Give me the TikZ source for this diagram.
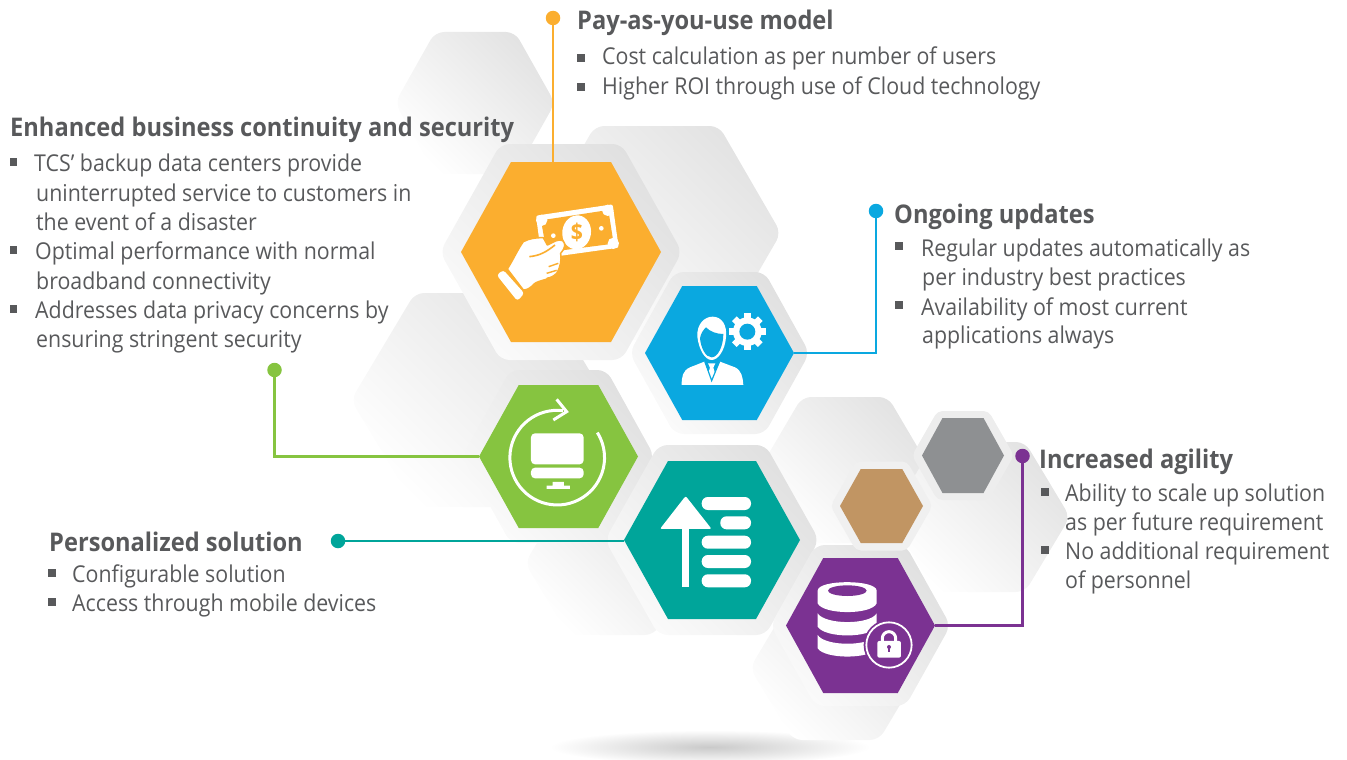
\documentclass[tikz,border=0pt]{standalone}
\usepackage{fontspec}
\setmainfont[FakeStretch=0.92]{Open Sans}
\usetikzlibrary{shapes.geometric}
\definecolor{txt}{HTML}{58595B}
\definecolor{corange}{HTML}{FBAE2F}
\definecolor{cblue}{HTML}{0AA8E0}
\definecolor{cgreen}{HTML}{86C440}
\definecolor{cteal}{HTML}{00A59A}
\definecolor{cpurple}{HTML}{7B3292}
\definecolor{cbrown}{HTML}{C19563}
\definecolor{cgrey}{HTML}{8E9092}
\tikzset{
  x=1pt,y=-1pt,
  bghex/.style={rounded corners=9pt,bottom color=white,top color=black!11,shading angle=-45},
  halo/.style={rounded corners=9pt,bottom color=black!2,top color=black!12,shading angle=-45},
  hexbox/.style={rectangle,inner sep=0pt,outer sep=0pt},
  head/.style={anchor=base west,inner sep=0pt,text=txt,font=\fontsize{25.7}{26}\selectfont\bfseries},
  lbl/.style={anchor=base west,inner sep=0pt,text=txt,font=\fontsize{23.2}{25}\selectfont},
  bul/.style={rectangle,fill=txt,inner sep=0pt,minimum size=7.2pt},
  dot/.style={circle,inner sep=0pt,minimum size=14.5pt},
  link/.style={line width=2.8pt},
}
\newcommand{\hexa}[6]{%
  \path[#6] ({#2-#4},#3) -- ({#2-#4/2},{#3-#5}) -- ({#2+#4/2},{#3-#5}) -- ({#2+#4},#3) -- ({#2+#4/2},{#3+#5}) -- ({#2-#4/2},{#3+#5}) -- cycle;
  \node[hexbox,minimum width={2*#4 pt},minimum height={2*#5 pt}] (#1) at (#2,#3) {};}
\newcommand{\pill}[4]{\fill[white,rounded corners=6.2pt] (#1,#2) rectangle (#3,#4);}
\begin{document}
\begin{tikzpicture}
\useasboundingbox (0,0) rectangle (1347,760);
% floor shadow
\begin{scope}
\clip (0,0) rectangle (1347,760);
\shade[inner color=black!21,outer color=white] (710,747) ellipse [x radius=160,y radius=17];
\end{scope}
% background hexagons
\hexa{bgA}{475}{103}{80}{71}{bghex}
\hexa{bgB}{657}{233}{124}{107}{bghex}
\hexa{bgC}{479}{400}{128}{107}{bghex}
\hexa{bgD}{611}{563}{86}{72}{bghex}
\hexa{bgE}{836}{668}{86}{72}{bghex}
\hexa{bgF}{845}{470}{86}{73}{bghex}
\hexa{bgG}{980}{517}{90}{75}{bghex}
% orange
\hexa{hOrange}{561}{252}{121}{108}{halo}
\hexa{orange}{561}{252}{100}{90}{fill=corange}
% blue
\hexa{hBlue}{719.5}{353}{90}{81}{halo}
\hexa{blue}{719.5}{353}{74.5}{67}{fill=cblue}
% green
\hexa{hGreen}{558.5}{456.5}{96}{86.5}{halo}
\hexa{green}{558.5}{456.5}{79.5}{71.5}{fill=cgreen}
% teal
\hexa{hTeal}{712}{540}{107}{95}{halo}
\hexa{teal}{712}{540}{88}{79}{fill=cteal}
% purple
\hexa{hPurple}{860.5}{625.5}{90}{80.5}{halo}
\hexa{purple}{860.5}{625.5}{74.5}{67.5}{fill=cpurple}
% grey
\hexa{hGrey}{963}{455.5}{51}{44.5}{rounded corners=5pt,fill=black!7}
\hexa{grey}{963}{455.5}{41}{37.5}{fill=cgrey}
% brown
\hexa{hBrown}{881.5}{506}{51}{44.5}{rounded corners=5pt,fill=black!6}
\hexa{brown}{881.5}{506}{41.5}{37}{fill=cbrown}
% money icon
\begin{scope}[shift={(490,195)},scale=0.3333]
\fill[white,rounded corners=2pt] (138,62)--(368,28)--(386,158)--(200,184)--(155,190)--cycle;
\fill[corange] (153,76)--(355,45)--(371,146)--(170,172)--cycle;
\fill[white] (155,76) circle (17) (353,46) circle (17) (370,145) circle (17);
\fill[white] (334,100) circle (7);
\fill[white,rotate around={-8:(260,112)}] (260,112) ellipse [x radius=43,y radius=51];
\fill[white] (190,122) circle (7);
\node[text=corange,font=\fontsize{23}{23}\selectfont\bfseries,inner sep=0pt] (dollar) at (261,112) {\$};
\fill[white,draw=corange,line width=1.5pt,line join=round]
  (52,222)..controls (72,190) and (85,160)..(100,140)
  ..controls (120,130) and (135,128)..(160,128)
  --(172,150)..controls (190,142) and (205,130)..(218,137)
  ..controls (228,145) and (226,160)..(212,175)
  ..controls (215,195) and (212,215)..(200,235)
  ..controls (180,255) and (150,255)..(135,265)
  ..controls (120,280) and (112,285)..(100,285)--cycle;
\draw[corange,line width=1.6pt] (118,185)..controls (150,182) and (170,170)..(195,150);
\draw[corange,line width=1.4pt] (176,215)--(205,205) (170,235)--(200,226) (170,250)--(192,245);
\fill[white,rounded corners=3pt] (20,240)--(40,225)--(103,295)--(82,318)--cycle;
\end{scope}
% person icon
\begin{scope}[shift={(670,300)},scale=0.3333]
\fill[white] (82,110)..controls (80,70) and (105,50)..(128,50)
  ..controls (155,50) and (172,75)..(168,112)
  ..controls (165,150) and (145,180)..(125,180)
  ..controls (105,180) and (87,150)..(82,110)--cycle;
\fill[cblue] (90,115)..controls (92,100) and (100,90)..(108,82)
  ..controls (120,95) and (140,102)..(160,102)
  ..controls (160,140) and (143,172)..(125,172)
  ..controls (107,172) and (93,145)..(90,115)--cycle;
\fill[white] (35,255)..controls (35,230) and (38,212)..(60,202)--(103,185)--(125,240)--(150,185)--(195,202)
  ..controls (215,212) and (218,230)..(220,255)--cycle;
\fill[white] (114,190)--(136,190)--(130,203)--(137,226)--(125,238)--(113,226)--(120,203)--cycle;
\draw[cblue,line width=1.2pt] (105,186)--(125,242)--(148,186);
\fill[white] (232,95) circle (43);
\foreach \a in {0,45,...,315}{\fill[white,rotate around={\a:(232,95)}] (222,40) rectangle (242,60);}
\fill[cblue] (232,95) circle (24);
\end{scope}
% refresh monitor icon
\begin{scope}[shift={(350,370)},scale=0.3333]
\draw[white,line width=3pt] (639,122) arc [start angle=-83,end angle=-392,radius=142];
\draw[white,line width=3pt] (620,88)--(650,125)--(610,150);
\fill[white,rounded corners=4pt] (543,283)--(543,190)--(701,190)--(701,283)--cycle;
\fill[white,rounded corners=4pt] (543,293)--(701,293)--(701,325)--(543,325)--cycle;
\fill[white] (608,336) rectangle (642,347) (590,347) rectangle (660,357);
\end{scope}
% arrow list icon
\begin{scope}[shift={(350,370)},scale=0.3333]
\fill[white] (997,470) rectangle (1017,652);
\fill[white,rounded corners=2pt] (1007,378)--(1085,477)--(930,477)--cycle;
\end{scope}
\pill{701.7}{497}{751}{510}
\pill{720.3}{516.3}{751}{529.3}
\pill{701.7}{535.7}{751}{548.7}
\pill{701.7}{555}{751}{568}
\pill{701.7}{574.3}{751}{587.3}
% database icon
\begin{scope}[shift={(805,570)},scale=0.3333]
\fill[white] (38,62)..controls (38,28) and (215,28)..(215,62)--(215,100)..controls (200,135) and (55,135)..(38,100)--cycle;
\fill[cpurple] (127,62) ellipse [x radius=58,y radius=16];
\fill[white] (38,130)..controls (60,165) and (195,165)..(215,130)--(215,170)..controls (195,205) and (60,205)..(38,170)--cycle;
\fill[white] (38,195)..controls (60,230) and (195,230)..(215,195)--(215,235)..controls (195,268) and (60,268)..(38,235)--cycle;
\fill[cpurple] (252,225) circle (76);
\draw[white,line width=1.8pt] (252,225) circle (68);
\fill[white,rounded corners=2pt] (217,213) rectangle (288,263);
\draw[white,line width=3pt] (232,215)--(232,205) arc [start angle=180,end angle=360,radius=20]--(272,215);
\fill[cpurple] (252,231) circle (6);
\fill[cpurple] (249,231) rectangle (255,247);
\end{scope}
% connectors
\node[dot,fill=corange] (dO) at (553,18) {};
\draw[link,corange] (dO) -- (dO |- orange.north);
\node[dot,fill=cblue] (dB) at (876,211) {};
\draw[link,cblue] (dB) |- (blue.east);
\node[dot,fill=cgreen] (dG) at (274.5,370) {};
\draw[link,cgreen] (dG) |- (green.west);
\node[dot,fill=cteal] (dT) at (338,541) {};
\draw[link,cteal] (dT) -- (dT -| teal.west);
\node[dot,fill=cpurple] (dP) at (1022.5,456) {};
\draw[link,cpurple] (dP) |- (purple.east);
% text
\node[head] (h1) at (577,30) {Pay-as-you-use model};
\node[bul] (b11) at (581,58) {};
\node[lbl] (t11) at (602,65) {Cost calculation as per number of users};
\node[bul] (b12) at (581,87) {};
\node[lbl] (t12) at (602,94) {Higher ROI through use of Cloud technology};
\node[head] (h2) at (10,136) {Enhanced business continuity and security};
\node[bul] (b21) at (13.5,162) {};
\node[lbl] (t21) at (34,171) {TCS’ backup data centers provide};
\node[lbl] (t22) at (36,201) {uninterrupted service to customers in};
\node[lbl] (t23) at (36,230) {the event of a disaster};
\node[bul] (b22) at (13.5,250) {};
\node[lbl] (t24) at (35,259) {Optimal performance with normal};
\node[lbl] (t25) at (36,289) {broadband connectivity};
\node[bul] (b23) at (13.5,309) {};
\node[lbl] (t26) at (35,318) {Addresses data privacy concerns by};
\node[lbl] (t27) at (36,347) {ensuring stringent security};
\node[head] (h3) at (894,223) {Ongoing updates};
\node[bul] (b31) at (899,246) {};
\node[lbl] (t31) at (921,256) {Regular updates automatically as};
\node[lbl] (t32) at (922,285) {per industry best practices};
\node[bul] (b32) at (899,305) {};
\node[lbl] (t33) at (921,315) {Availability of most current};
\node[lbl] (t34) at (922,343) {applications always};
\node[head] (h4) at (1039,468) {Increased agility};
\node[bul] (b41) at (1045,492) {};
\node[lbl] (t41) at (1065,501) {Ability to scale up solution};
\node[lbl] (t42) at (1065,530) {as per future requirement};
\node[bul] (b42) at (1045,550) {};
\node[lbl] (t43) at (1065,559) {No additional requirement};
\node[lbl] (t44) at (1065,588) {of personnel};
\node[head] (h5) at (49,551) {Personalized solution};
\node[bul] (b51) at (52,573) {};
\node[lbl] (t51) at (72,582) {Configurable solution};
\node[bul] (b52) at (52,602) {};
\node[lbl] (t52) at (72,611) {Access through mobile devices};
\end{tikzpicture}
\end{document}
